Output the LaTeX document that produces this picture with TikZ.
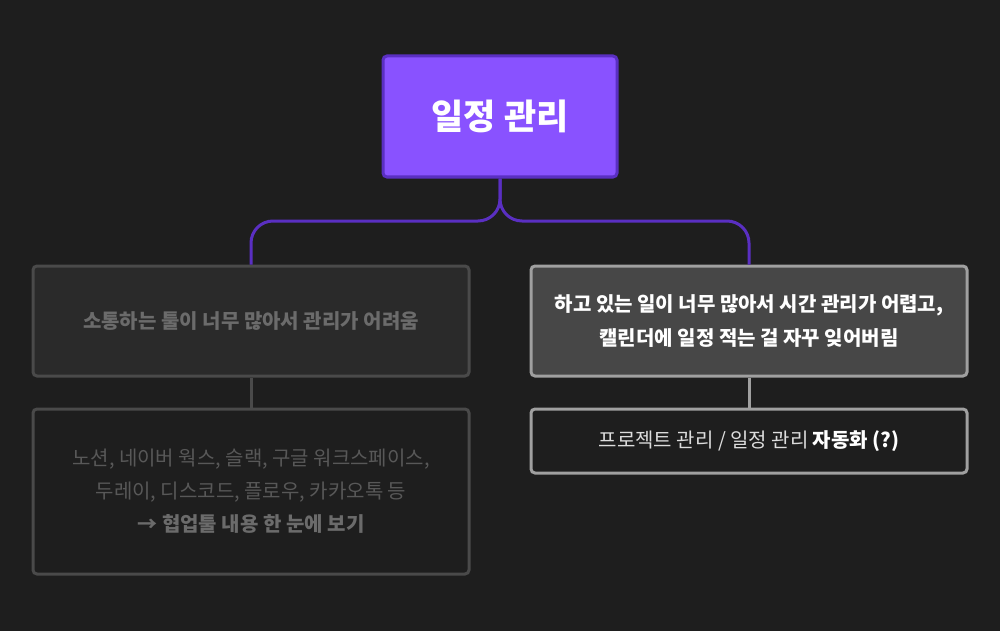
\documentclass[tikz,border=0pt]{standalone}
\usepackage{fontspec}
\setmainfont{Noto Sans CJK KR}
\definecolor{bg}{HTML}{1E1E1E}
\definecolor{purp}{HTML}{8952FF}
\definecolor{purpd}{HTML}{5A2FC2}
\definecolor{gb}{HTML}{4A4A4A}
\definecolor{lb}{HTML}{A0A0A0}
\definecolor{l1fill}{HTML}{2A2A2A}
\definecolor{l1text}{HTML}{6B6B6B}
\definecolor{l2text}{HTML}{585858}
\definecolor{l2bold}{HTML}{6B6B6B}
\definecolor{r1fill}{HTML}{474747}
\definecolor{r2text}{HTML}{DDDDDD}
\tikzset{box/.style={draw, line width=3pt, rounded corners=4pt, minimum width=436pt, align=center, inner sep=0pt, font=\fontsize{20}{34}\selectfont\bfseries},
conn/.style={line width=3pt}}
\begin{document}
\begin{tikzpicture}[x=1pt,y=-1pt]
\fill[bg] (0,0) rectangle (1000,631);
\useasboundingbox (0,0) rectangle (1000,631);
\node[box, fill=purp, draw=purpd, minimum width=234pt, minimum height=121pt, text=white, font=\fontsize{35}{40}\selectfont\bfseries] (t) at (500,116.5) {일정 관리};
\node[box, fill=l1fill, draw=gb, minimum height=110pt, text=l1text] (l1) at (251,321) {소통하는 툴이 너무 많아서 관리가 어려움};
\node[box, fill=bg, draw=gb, minimum height=165pt, text=l2text, font=\fontsize{20}{33}\selectfont] (l2) at (251,491.5) {노션, 네이버 웍스, 슬랙, 구글 워크스페이스,\\두레이, 디스코드, 플로우, 카카오톡 등\\\textcolor{l2bold}{\textbf{→ 협업툴 내용 한 눈에 보기}}};
\node[box, fill=r1fill, draw=lb, minimum height=110pt, text=white] (r1) at (749,321) {하고 있는 일이 너무 많아서 시간 관리가 어렵고,\\캘린더에 일정 적는 걸 자꾸 잊어버림};
\node[box, fill=bg, draw=lb, minimum height=64pt, text=r2text, font=\fontsize{20}{34}\selectfont] (r2) at (749,441) {프로젝트 관리 / 일정 관리 \textbf{\textcolor{white}{자동화 (?)}}};
\coordinate (m) at (500,221);
\draw[conn, draw=purpd, rounded corners=22pt] (t.south) -- (m) -| (l1.north);
\draw[conn, draw=purpd, rounded corners=22pt] (t.south) -- (m) -| (r1.north);
\draw[conn, draw=gb] (l1.south) -- (l2.north);
\draw[conn, draw=lb] (r1.south) -- (r2.north);
\end{tikzpicture}
\end{document}
